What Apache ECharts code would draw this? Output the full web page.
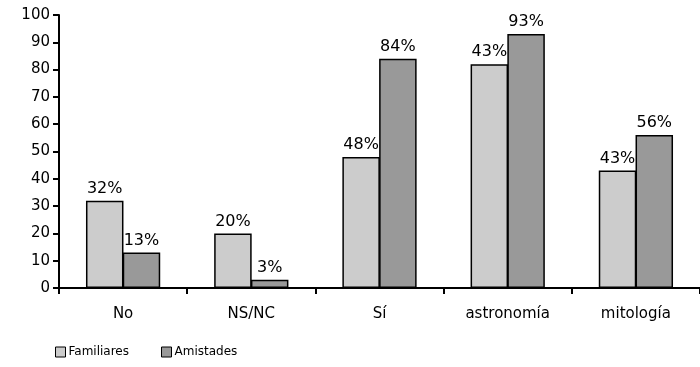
<!DOCTYPE html>
<html><head><meta charset="utf-8">
<script src="https://cdn.jsdelivr.net/npm/echarts@6/dist/echarts.min.js"></script>
<style>html,body{margin:0;padding:0;background:#fff}#c{width:700px;height:367px}</style>
</head><body><div id="c"></div>
<script>
const categories = ['No', 'NS/NC', 'Sí', 'astronomía', 'mitología'];
const familiares = [32, 20, 48, 82, 43];
const amistades = [13, 3, 84, 93, 56];
const familiaresLabels = ['32%', '20%', '48%', '43%', '43%'];
const amistadesLabels = ['13%', '3%', '84%', '93%', '56%'];
const yTicks = [0, 10, 20, 30, 40, 50, 60, 70, 80, 90, 100];

const FONT = '"DejaVu Sans", sans-serif';
const chart = echarts.init(document.getElementById('c'), null, {renderer: 'canvas'});
function mk(name, vals, labels, color) {
  return {
    name, type: 'bar', data: vals, barWidth: 37.5, barGap: '-2%',
    itemStyle: {color, borderColor: '#000', borderWidth: 1.5},
    label: {show: true, position: 'top', distance: 4, color: '#000', fontFamily: FONT, fontSize: 16,
      formatter: p => labels[p.dataIndex]}
  };
}
chart.setOption({
  animation: false,
  grid: {left: 59, top: 15, width: 648, height: 273},
  legend: {
    left: 50, top: 341, itemWidth: 10, itemHeight: 10, itemGap: 32,
    textStyle: {fontFamily: FONT, fontSize: 12, color: '#000', padding: [0, 0, 0, -2]},
    data: [{name: 'Familiares', icon: 'rect'}, {name: 'Amistades', icon: 'rect'}],
    itemStyle: {borderColor: '#000', borderWidth: 1}
  },
  xAxis: {
    type: 'category', data: categories,
    axisLine: {lineStyle: {color: '#000', width: 2}},
    axisTick: {show: true, length: 6, inside: false, lineStyle: {color: '#000', width: 2}},
    axisLabel: {color: '#000', fontFamily: FONT, fontSize: 15, margin: 19}
  },
  yAxis: {
    type: 'value', min: yTicks[0], max: yTicks[yTicks.length - 1], interval: 10,
    splitLine: {show: false},
    axisLine: {show: true, lineStyle: {color: '#000', width: 2}},
    axisTick: {show: true, length: 6, lineStyle: {color: '#000', width: 2}},
    axisLabel: {color: '#000', fontFamily: FONT, fontSize: 15, margin: 9}
  },
  series: [
    mk('Familiares', familiares, familiaresLabels, '#cccccc'),
    mk('Amistades', amistades, amistadesLabels, '#999999')
  ]
});
</script></body></html>
